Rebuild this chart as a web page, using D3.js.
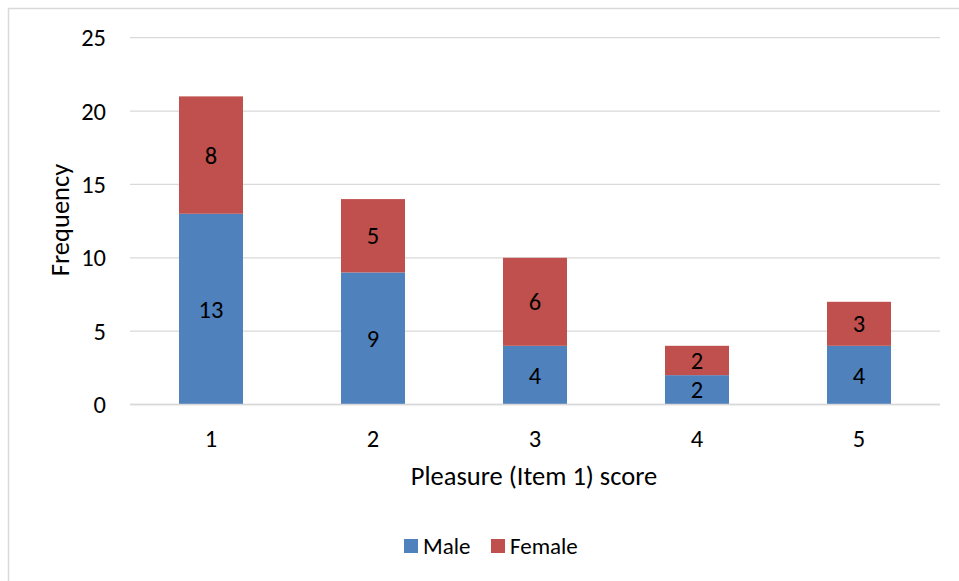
<!DOCTYPE html>
<html>
<head>
<meta charset="utf-8">
<script src="https://cdn.jsdelivr.net/npm/d3@7"></script>
<style>
  html, body { margin: 0; padding: 0; background: #fff; }
  svg { display: block; }
  text { font-family: Carlito, Calibri, "Open Sans", sans-serif; fill: #000; }
</style>
</head>
<body>
<svg id="chart" width="959" height="581"></svg>
<script>
// Frequency of Pleasure (Item 1) scores, split by gender
const categories = ["1", "2", "3", "4", "5"];
const maleValues = [13, 9, 4, 2, 4];
const femaleValues = [8, 5, 6, 2, 3];
const yTicks = [0, 5, 10, 15, 20, 25];
const seriesNames = ["Male", "Female"];
const seriesColors = ["#4F81BD", "#C0504D"];

const svg = d3.select("#chart");

// outer frame
svg.append("rect")
  .attr("x", 8.5).attr("y", 8.5)
  .attr("width", 959).attr("height", 581)
  .attr("fill", "#fff").attr("stroke", "#d9d9d9").attr("stroke-width", 1.5);

const plot = { left: 130, right: 940, top: 37.7, bottom: 404.5 };

const x = d3.scaleBand()
  .domain(categories)
  .range([plot.left, plot.right])
  .paddingInner(0.605)
  .paddingOuter(0.3025);

const y = d3.scaleLinear()
  .domain([0, 25])
  .range([plot.bottom, plot.top]);

// gridlines
svg.append("g")
  .selectAll("line")
  .data(yTicks)
  .join("line")
  .attr("x1", plot.left).attr("x2", plot.right)
  .attr("y1", d => y(d)).attr("y2", d => y(d))
  .attr("stroke", "#d9d9d9").attr("stroke-width", 1.3);

// y tick labels
svg.append("g")
  .selectAll("text")
  .data(yTicks)
  .join("text")
  .attr("x", 106)
  .attr("y", d => y(d))
  .attr("dy", "0.35em")
  .attr("text-anchor", "end")
  .attr("font-size", 24.5)
  .text(d => d);

// stacked data
const rows = categories.map((c, i) => ({ cat: c, Male: maleValues[i], Female: femaleValues[i] }));
const stack = d3.stack().keys(seriesNames)(rows);

const layers = svg.append("g")
  .selectAll("g")
  .data(stack)
  .join("g")
  .attr("fill", (d, i) => seriesColors[i]);

layers.selectAll("rect")
  .data(d => d)
  .join("rect")
  .attr("x", d => x(d.data.cat))
  .attr("width", x.bandwidth())
  .attr("y", d => y(d[1]))
  .attr("height", d => y(d[0]) - y(d[1]));

// value labels
const labelLayer = svg.append("g");
stack.forEach(series => {
  labelLayer.selectAll(null)
    .data(series)
    .join("text")
    .attr("x", d => x(d.data.cat) + x.bandwidth() / 2)
    .attr("y", d => (y(d[0]) + y(d[1])) / 2)
    .attr("dy", "0.35em")
    .attr("text-anchor", "middle")
    .attr("font-size", 24.5)
    .text(d => d[1] - d[0]);
});

// baseline axis
svg.append("line")
  .attr("x1", plot.left).attr("x2", plot.right)
  .attr("y1", y(0)).attr("y2", y(0))
  .attr("stroke", "#d9d9d9").attr("stroke-width", 1.5);

// x tick labels
svg.append("g")
  .selectAll("text")
  .data(categories)
  .join("text")
  .attr("x", d => x(d) + x.bandwidth() / 2)
  .attr("y", 438)
  .attr("dy", "0.35em")
  .attr("text-anchor", "middle")
  .attr("font-size", 24.5)
  .text(d => d);

// axis titles
svg.append("text")
  .attr("x", 534).attr("y", 476)
  .attr("dy", "0.35em")
  .attr("text-anchor", "middle")
  .attr("font-size", 26.5)
  .text("Pleasure (Item 1) score");

svg.append("text")
  .attr("transform", "translate(60,220) rotate(-90)")
  .attr("dy", "0.35em")
  .attr("text-anchor", "middle")
  .attr("font-size", 26.5)
  .text("Frequency");

// legend
const legend = svg.append("g");
const legendItems = [
  { name: seriesNames[0], color: seriesColors[0], x: 404 },
  { name: seriesNames[1], color: seriesColors[1], x: 491 }
];
legendItems.forEach(item => {
  legend.append("rect")
    .attr("x", item.x).attr("y", 539)
    .attr("width", 14).attr("height", 14)
    .attr("fill", item.color);
  legend.append("text")
    .attr("x", item.x + 19).attr("y", 546)
    .attr("dy", "0.35em")
    .attr("font-size", 23)
    .text(item.name);
});
</script>
</body>
</html>
